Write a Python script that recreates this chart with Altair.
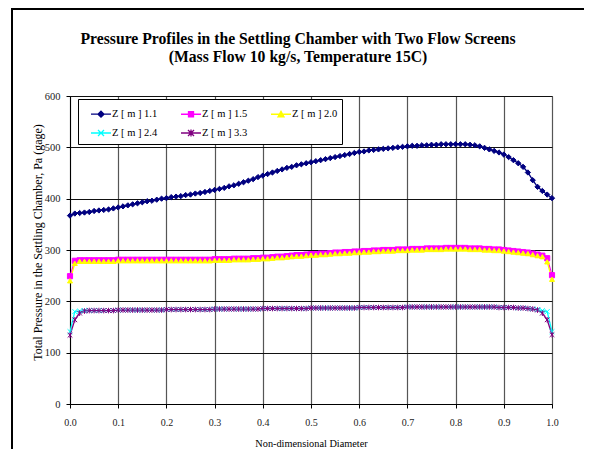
import altair as alt
import pandas as pd

# ---------------- data ----------------
x_vals = [0.00, 0.01, 0.02, 0.03, 0.04, 0.05, 0.06, 0.07, 0.08, 0.09,
          0.10, 0.11, 0.12, 0.13, 0.14, 0.15, 0.16, 0.17, 0.18, 0.19,
          0.20, 0.21, 0.22, 0.23, 0.24, 0.25, 0.26, 0.27, 0.28, 0.29,
          0.30, 0.31, 0.32, 0.33, 0.34, 0.35, 0.36, 0.37, 0.38, 0.39,
          0.40, 0.41, 0.42, 0.43, 0.44, 0.45, 0.46, 0.47, 0.48, 0.49,
          0.50, 0.51, 0.52, 0.53, 0.54, 0.55, 0.56, 0.57, 0.58, 0.59,
          0.60, 0.61, 0.62, 0.63, 0.64, 0.65, 0.66, 0.67, 0.68, 0.69,
          0.70, 0.71, 0.72, 0.73, 0.74, 0.75, 0.76, 0.77, 0.78, 0.79,
          0.80, 0.81, 0.82, 0.83, 0.84, 0.85, 0.86, 0.87, 0.88, 0.89,
          0.90, 0.91, 0.92, 0.93, 0.94, 0.95, 0.96, 0.97, 0.98, 0.99,
          1.00]

series_names = ["Z [ m ] 1.1", "Z [ m ] 1.5", "Z [ m ] 2.0", "Z [ m ] 2.4", "Z [ m ] 3.3"]

z11 = [367, 371, 372, 373, 374, 376, 377, 378, 379, 381,
       383, 385, 387, 389, 391, 393, 395, 396, 398, 400,
       401, 403, 404, 405, 407, 408, 410, 411, 413, 415,
       417, 419, 421, 424, 426, 429, 432, 435, 438, 442,
       445, 448, 451, 454, 457, 460, 462, 465, 467, 469,
       471, 473, 475, 477, 479, 481, 483, 485, 487, 489,
       491, 492, 494, 495, 496, 497, 498, 499, 500, 501,
       502, 503, 503, 504, 504, 505, 505, 506, 506, 506,
       506, 506, 506, 505, 504, 502, 499, 496, 493, 490,
       486, 481, 475, 469, 462, 451, 436, 423, 415, 408,
       401]

z15 = [249, 279, 280, 280, 280, 280, 280, 280, 280, 280,
       281, 281, 281, 281, 281, 281, 281, 281, 281, 281,
       281, 281, 281, 281, 281, 281, 281, 281, 281, 281,
       282, 282, 282, 282, 283, 283, 283, 283, 284, 284,
       285, 285, 286, 287, 287, 288, 289, 290, 290, 291,
       292, 292, 293, 293, 294, 295, 295, 296, 296, 297,
       297, 298, 298, 299, 299, 300, 300, 300, 301, 301,
       301, 302, 302, 302, 303, 303, 303, 303, 304, 304,
       304, 304, 304, 303, 303, 303, 302, 302, 301, 301,
       300, 299, 298, 297, 296, 295, 293, 291, 289, 284,
       251]

z20 = [240, 274, 278, 278, 278, 278, 278, 278, 278, 278,
       279, 279, 279, 279, 279, 279, 279, 279, 279, 279,
       279, 279, 279, 279, 279, 279, 279, 279, 279, 279,
       280, 280, 280, 280, 281, 281, 281, 281, 282, 282,
       283, 283, 284, 285, 285, 286, 287, 288, 288, 289,
       290, 290, 291, 291, 292, 293, 293, 294, 294, 295,
       295, 296, 296, 297, 297, 298, 298, 298, 299, 299,
       299, 300, 300, 300, 301, 301, 301, 301, 302, 302,
       302, 302, 302, 301, 301, 301, 300, 300, 299, 299,
       298, 297, 296, 295, 294, 293, 291, 289, 287, 277,
       243]

z24 = [141, 180, 181, 182, 182, 182, 182, 182, 182, 182,
       183, 183, 183, 183, 183, 183, 183, 183, 183, 183,
       184, 184, 184, 184, 184, 184, 184, 184, 184, 184,
       185, 185, 185, 185, 185, 185, 185, 185, 185, 185,
       186, 186, 186, 186, 186, 186, 186, 186, 186, 186,
       187, 187, 187, 187, 187, 187, 187, 187, 187, 187,
       188, 188, 188, 188, 188, 188, 188, 188, 188, 188,
       189, 189, 189, 189, 189, 189, 189, 189, 189, 189,
       189, 189, 189, 189, 189, 189, 189, 189, 189, 188,
       188, 188, 188, 187, 187, 186, 185, 184, 182, 180,
       141]

z33 = [134, 164, 177, 181, 182, 182, 182, 182, 182, 182,
       183, 183, 183, 183, 183, 183, 183, 183, 183, 183,
       184, 184, 184, 184, 184, 184, 184, 184, 184, 184,
       185, 185, 185, 185, 185, 185, 185, 185, 185, 185,
       186, 186, 186, 186, 186, 186, 186, 186, 186, 186,
       187, 187, 187, 187, 187, 187, 187, 187, 187, 187,
       188, 188, 188, 188, 188, 188, 188, 188, 188, 188,
       189, 189, 189, 189, 189, 189, 189, 189, 189, 189,
       189, 189, 189, 189, 189, 189, 189, 189, 189, 188,
       188, 188, 188, 187, 187, 186, 185, 183, 177, 164,
       135]

x_ticks = [0.0, 0.1, 0.2, 0.3, 0.4, 0.5, 0.6, 0.7, 0.8, 0.9, 1.0]
y_ticks = [0, 100, 200, 300, 400, 500, 600]

colors = ["#000080", "#FF00FF", "#FFFF00", "#00FFFF", "#800080"]
marker_shapes = ["diamond", "square", "triangle-up",
                 "M-1,-1L1,1M-1,1L1,-1",
                 "M-1,-1L1,1M-1,1L1,-1M0,-1.2L0,1.2"]
marker_sizes = [28, 22, 32, 30, 30]
legend_shapes = ["M-1,0L1,0M0,-0.3L0.3,0L0,0.3L-0.3,0Z",
                 "M-1,0L1,0M-0.25,-0.25L0.25,-0.25L0.25,0.25L-0.25,0.25Z",
                 "M-1,0L1,0M0,-0.3L0.3,0.25L-0.3,0.25Z",
                 "M-1,0L1,0M-0.3,-0.3L0.3,0.3M-0.3,0.3L0.3,-0.3",
                 "M-1,0L1,0M-0.3,-0.3L0.3,0.3M-0.3,0.3L0.3,-0.3M0,-0.35L0,0.35"]

rows = []
for name, vals in zip(series_names, [z11, z15, z20, z24, z33]):
    for xv, pv in zip(x_vals, vals):
        rows.append({"series": name, "x": xv, "p": pv})
df = pd.DataFrame(rows)

FONT = "Liberation Serif"

x_enc = alt.X("x:Q", scale=alt.Scale(domain=[0, 1], nice=False, zero=False),
              axis=alt.Axis(values=x_ticks, format=".1f", title="Non-dimensional Diameter",
                            grid=True, gridColor="#555555", gridWidth=1.2,
                            tickSize=4, tickColor="black", domainColor="black",
                            labelFont=FONT, titleFont=FONT,
                            labelFontSize=10, labelPadding=9, labelColor="#222222",
                            labelFlush=False,
                            titleFontSize=10.3, titleFontWeight="normal", titleColor="black",
                            titleY=39.5, titleBaseline="middle"))
y_enc = alt.Y("p:Q", scale=alt.Scale(domain=[0, 600], nice=False),
              axis=alt.Axis(values=y_ticks, title="Total Pressure in the Settling Chamber, Pa (gage)",
                            grid=True, gridColor="#111111", gridWidth=1,
                            tickSize=4, tickColor="black", domainColor="black",
                            labelFont=FONT, titleFont=FONT,
                            labelFontSize=10.5, labelPadding=6, labelColor="#222222",
                            titleFontSize=12, titleFontWeight="normal", titleColor="black",
                            titleX=-33, titleY=146, titleAlign="center", titleBaseline="middle"))

lines = alt.Chart(df).mark_line(strokeWidth=1.3).encode(
    x=x_enc, y=y_enc,
    color=alt.Color("series:N", scale=alt.Scale(domain=series_names, range=colors), legend=None),
    order="x:Q",
)

points = alt.Chart(df).mark_point(filled=True, strokeWidth=1, opacity=1).encode(
    x="x:Q", y="p:Q",
    fill=alt.Fill("series:N", scale=alt.Scale(domain=series_names, range=colors), legend=None),
    stroke=alt.Stroke("series:N", scale=alt.Scale(domain=series_names, range=colors), legend=None),
    shape=alt.Shape("series:N", scale=alt.Scale(domain=series_names, range=marker_shapes), legend=None),
    size=alt.Size("series:N", scale=alt.Scale(domain=series_names, range=marker_sizes), legend=None),
)

leg = alt.Legend(orient="none", legendX=8, legendY=3, columns=3, direction="horizontal",
                 fillColor="white", strokeColor="black", padding=4,
                 symbolSize=400, symbolStrokeWidth=1.3, symbolOpacity=1, symbolOffset=8,
                 labelFont=FONT, labelFontSize=10.5, labelColor="black", labelOffset=0,
                 columnPadding=14, rowPadding=2)

legend_layer = alt.Chart(df).mark_point(filled=True, opacity=0, size=400).encode(
    x="x:Q", y="p:Q",
    fill=alt.Fill("series:N", scale=alt.Scale(domain=series_names, range=colors), title=None, legend=leg),
    stroke=alt.Stroke("series:N", scale=alt.Scale(domain=series_names, range=colors), title=None, legend=leg),
    shape=alt.Shape("series:N", scale=alt.Scale(domain=series_names, range=legend_shapes), title=None, legend=leg),
)

border = alt.Chart(pd.DataFrame({"a": [0]})).mark_rect(
    fillOpacity=0, stroke="black", strokeWidth=2
).encode(x=alt.value(-58), x2=alt.value(700), y=alt.value(-87), y2=alt.value(500))

chart = alt.layer(border, lines, points, legend_layer).resolve_scale(
    color="independent", fill="independent", stroke="independent",
    shape="independent", size="independent"
).properties(
    width=482, height=308,
    autosize=alt.AutoSizeParams(type="none"),
    padding={"left": 62, "top": 88, "right": 32, "bottom": 45},
    background="white",
    title=alt.TitleParams(
        text=["Pressure Profiles in the Settling Chamber with Two Flow Screens",
              "(Mass Flow 10 kg/s, Temperature 15C)"],
        font=FONT, fontSize=15.7, fontWeight="bold", color="black",
        anchor="middle", frame="group", dx=-13, dy=58, offset=0, lineHeight=18.5),
).configure_view(
    stroke="#808080", strokeWidth=1
).configure_axis(
    labelFont=FONT, titleFont=FONT, titleColor="black"
)

chart.save("out.html", embed_options={"renderer": "svg", "actions": False})
